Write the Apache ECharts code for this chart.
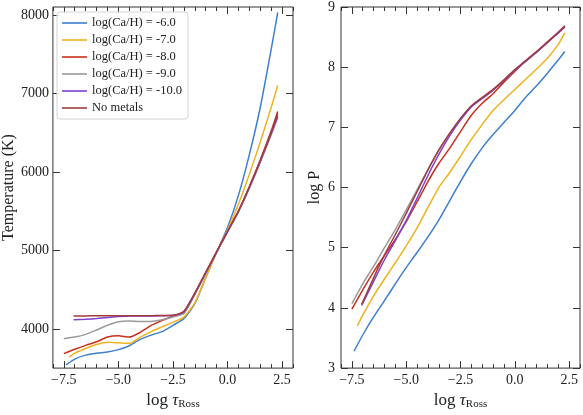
<!DOCTYPE html>
<html><head><meta charset="utf-8">
<script src="https://cdn.jsdelivr.net/npm/echarts@6/dist/echarts.min.js"></script>
<style>html,body{margin:0;padding:0;background:#fff}#c{width:583px;height:415px}</style>
</head><body><div id="c"></div>
<script>
// ---- data ----
const seriesNames = ['log(Ca/H) = -6.0','log(Ca/H) = -7.0','log(Ca/H) = -8.0','log(Ca/H) = -9.0','log(Ca/H) = -10.0','No metals'];
const seriesColors = ['#3d7fd0','#efb220','#c8301e','#9a9a9a','#8040d0','#a03c3c'];

const tauBlue   = [-7.4,-7.0,-6.5,-6.0,-5.5,-5.0,-4.5,-4.0,-3.5,-3.0,-2.5,-2.0,-1.5,-1.0,-0.5,0.0,0.5,1.0,1.5,2.0,2.3];
const tempBlue  = [3540,3615,3665,3690,3705,3735,3785,3865,3920,3965,4045,4130,4320,4650,4975,5290,5700,6220,6820,7560,8030];
const logPBlue  = [3.28,3.55,3.85,4.12,4.4,4.67,4.92,5.18,5.46,5.78,6.1,6.4,6.66,6.88,7.08,7.28,7.5,7.69,7.9,8.12,8.26];

const tauOrange  = [-7.25,-7.0,-6.5,-6.0,-5.5,-5.0,-4.5,-4.0,-3.5,-3.0,-2.5,-2.0,-1.5,-1.0,-0.5,0.0,0.5,1.0,1.5,2.0,2.3];
const tempOrange = [3640,3690,3750,3800,3828,3822,3815,3895,3965,4025,4085,4150,4330,4650,4975,5260,5590,5970,6380,6820,7100];
const logPOrange = [3.7,3.88,4.2,4.48,4.75,5.03,5.33,5.67,6.0,6.25,6.52,6.8,7.05,7.28,7.46,7.63,7.8,7.97,8.15,8.38,8.57];

const tauRed  = [-7.5,-7.0,-6.5,-6.0,-5.5,-5.0,-4.5,-4.0,-3.5,-3.0,-2.5,-2.0,-1.5,-1.0,-0.5,0.0,0.5,1.0,1.5,2.0,2.3];
const tempRed = [3685,3740,3790,3835,3895,3912,3895,3955,4045,4105,4160,4200,4440,4710,4980,5240,5500,5810,6150,6520,6770];
const logPRed = [3.98,4.3,4.6,4.87,5.14,5.43,5.76,6.1,6.4,6.65,6.93,7.2,7.4,7.56,7.75,7.93,8.1,8.25,8.41,8.58,8.69];

const tauGray  = [-7.5,-7.0,-6.5,-6.0,-5.5,-5.0,-4.5,-4.0,-3.5,-3.0,-2.5,-2.0,-1.5,-1.0,-0.5,0.0,0.5,1.0,1.5,2.0,2.3];
const tempGray = [3875,3895,3930,3985,4045,4090,4100,4095,4095,4115,4150,4200,4440,4710,4980,5235,5490,5790,6120,6470,6690];
const logPGray = [4.07,4.4,4.69,5.0,5.3,5.63,5.96,6.3,6.62,6.9,7.14,7.35,7.48,7.62,7.78,7.95,8.1,8.25,8.41,8.57,8.67];

const tauPurple  = [-7.05,-6.5,-6.0,-5.5,-5.0,-4.5,-4.0,-3.5,-3.0,-2.5,-2.0,-1.5,-1.0,-0.5,0.0,0.5,1.0,1.5,2.0,2.3];
const tempPurple = [4115,4122,4132,4145,4158,4165,4165,4165,4166,4172,4215,4450,4715,4980,5238,5495,5800,6135,6490,6710];
const logPPurple = [4.04,4.44,4.8,5.12,5.45,5.82,6.2,6.55,6.86,7.12,7.34,7.48,7.62,7.78,7.95,8.1,8.25,8.41,8.57,8.67];

const tauBrown  = [-7.05,-6.5,-6.0,-5.5,-5.0,-4.5,-4.0,-3.5,-3.0,-2.5,-2.0,-1.5,-1.0,-0.5,0.0,0.5,1.0,1.5,2.0,2.3];
const tempBrown = [4165,4165,4166,4166,4167,4167,4167,4168,4170,4175,4225,4455,4718,4980,5240,5500,5810,6145,6505,6740];
const logPBrown = [4.06,4.5,4.88,5.22,5.57,5.93,6.29,6.62,6.9,7.15,7.36,7.5,7.63,7.79,7.96,8.11,8.26,8.42,8.58,8.68];

const xMajorTicks = [-7.5,-5.0,-2.5,0.0,2.5];
const xMinorTicks = [-8.0,-7.0,-6.5,-6.0,-5.5,-4.5,-4.0,-3.5,-3.0,-2.0,-1.5,-1.0,-0.5,0.5,1.0,1.5,2.0,3.0];
const tempTicks = [4000,5000,6000,7000,8000];
const logPTicks = [3,4,5,6,7,8,9];

// ---- chart ----
const FONT = 'Liberation Serif';
const INK = '#222';
const FRAME = '#333';
const taus  = [tauBlue,tauOrange,tauRed,tauGray,tauPurple,tauBrown];
const temps = [tempBlue,tempOrange,tempRed,tempGray,tempPurple,tempBrown];
const logPs = [logPBlue,logPOrange,logPRed,logPGray,logPPurple,logPBrown];

function pairs(xs, ys){ return xs.map((x,i)=>[x, ys[i]]); }
function fmtX(v){ return (v<0?'\u2212':'') + Math.abs(v).toFixed(1); }
function fmtPlain(v){ return String(v); }

const xName = '{a|log }{t|\u03c4}{s|Ross}';
const xNameStyle = {
  rich: {
    a: {fontFamily: FONT, fontSize: 17, color: INK},
    t: {fontFamily: FONT, fontSize: 17, fontStyle: 'italic', color: INK},
    s: {fontFamily: FONT, fontSize: 11, color: INK, verticalAlign: 'bottom', padding: [8,0,0,0]}
  }
};
const noLine = {show: false, onZero: false};

function xAxes(g){
  const base = {gridIndex: g, type: 'value', min: -8, max: 3, splitLine: {show: false}, axisLine: noLine};
  return [
    Object.assign({}, base, {position: 'bottom',
      axisTick: {show: true, inside: true, length: 7, customValues: xMajorTicks, lineStyle: {color: FRAME}},
      axisLabel: {show: true, customValues: xMajorTicks, formatter: fmtX, margin: 5, fontFamily: FONT, fontSize: 14, color: INK},
      name: xName, nameLocation: 'middle', nameGap: 18, nameTextStyle: xNameStyle}),
    Object.assign({}, base, {position: 'bottom',
      axisTick: {show: true, inside: true, length: 4, customValues: xMinorTicks, lineStyle: {color: FRAME}},
      axisLabel: {show: false}}),
    Object.assign({}, base, {position: 'top',
      axisTick: {show: true, inside: true, length: 7, customValues: xMajorTicks, lineStyle: {color: FRAME}},
      axisLabel: {show: false}}),
    Object.assign({}, base, {position: 'top',
      axisTick: {show: true, inside: true, length: 4, customValues: xMinorTicks, lineStyle: {color: FRAME}},
      axisLabel: {show: false}})
  ];
}

const xAxis = xAxes(0).concat(xAxes(1));
const yAxis = [
  {gridIndex: 0, type: 'value', min: 3500, max: 8100, position: 'left', splitLine: {show: false}, axisLine: noLine,
   axisTick: {show: true, inside: true, length: 7, customValues: tempTicks, lineStyle: {color: FRAME}},
   axisLabel: {customValues: tempTicks, formatter: fmtPlain, margin: 4, fontFamily: FONT, fontSize: 14, color: INK},
   name: 'Temperature (K)', nameLocation: 'middle', nameGap: 30, nameTextStyle: {fontFamily: FONT, fontSize: 16, color: INK}},
  {gridIndex: 0, type: 'value', min: 3500, max: 8100, position: 'right', splitLine: {show: false}, axisLine: noLine,
   axisTick: {show: true, inside: true, length: 7, customValues: tempTicks, lineStyle: {color: FRAME}},
   axisLabel: {show: false}},
  {gridIndex: 1, type: 'value', min: 3, max: 9, position: 'left', splitLine: {show: false}, axisLine: noLine,
   axisTick: {show: true, inside: true, length: 7, customValues: logPTicks, lineStyle: {color: FRAME}},
   axisLabel: {customValues: logPTicks, formatter: fmtPlain, margin: 6, fontFamily: FONT, fontSize: 14, color: INK},
   name: 'log P', nameLocation: 'middle', nameGap: 18, nameTextStyle: {fontFamily: FONT, fontSize: 16, color: INK}},
  {gridIndex: 1, type: 'value', min: 3, max: 9, position: 'right', splitLine: {show: false}, axisLine: noLine,
   axisTick: {show: true, inside: true, length: 7, customValues: logPTicks, lineStyle: {color: FRAME}},
   axisLabel: {show: false}}
];

const series = [];
for (let i = 0; i < seriesNames.length; i++) {
  series.push({name: seriesNames[i], type: 'line', xAxisIndex: 0, yAxisIndex: 0,
    data: pairs(taus[i], temps[i]), symbol: 'none', smooth: 0.2,
    lineStyle: {width: 1.5, color: seriesColors[i]}, itemStyle: {color: seriesColors[i]}, z: 2 + i});
}
for (let i = 0; i < seriesNames.length; i++) {
  series.push({name: seriesNames[i], type: 'line', xAxisIndex: 4, yAxisIndex: 2,
    data: pairs(taus[i], logPs[i]), symbol: 'none', smooth: 0.2,
    lineStyle: {width: 1.5, color: seriesColors[i]}, itemStyle: {color: seriesColors[i]}, z: 2 + i});
}

const chart = echarts.init(document.getElementById('c'), null, {renderer: 'canvas'});
chart.setOption({
  animation: false,
  backgroundColor: '#fff',
  grid: [
    {left: 52, top: 7, width: 241, height: 365, show: true, borderColor: FRAME, borderWidth: 1, backgroundColor: 'transparent'},
    {left: 341, top: 7, width: 239, height: 366, show: true, borderColor: FRAME, borderWidth: 1, backgroundColor: 'transparent'}
  ],
  legend: {
    data: seriesNames, orient: 'vertical', left: 57, top: 12,
    icon: 'rect', itemWidth: 25, itemHeight: 1.6, itemGap: 3,
    padding: [4, 6, 4, 5],
    borderColor: '#d4d4d4', borderWidth: 1, borderRadius: 3,
    backgroundColor: 'rgba(255,255,255,0.85)',
    textStyle: {fontFamily: FONT, fontSize: 12.5, color: INK, lineHeight: 14}
  },
  xAxis: xAxis,
  yAxis: yAxis,
  series: series
});
</script></body></html>
